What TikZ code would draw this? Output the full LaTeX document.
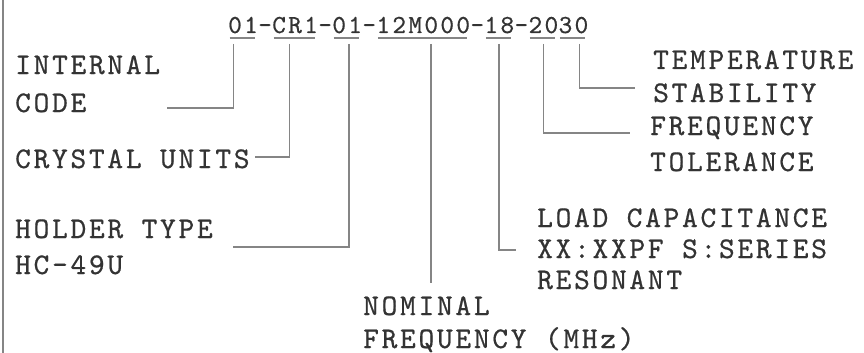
\documentclass[tikz,border=0pt]{standalone}
\usepackage{fontspec}
\usepackage{tikz}
\usepackage{xcolor}
\usetikzlibrary{positioning,calc}

\newfontfamily\diagfont{lmmono10-regular.otf}[LetterSpace=9,FakeBold=0.6]
\definecolor{inkgray}{HTML}{333333}
\definecolor{linegray}{HTML}{858585}

\tikzset{
  seg/.style={font=\diagfont\fontsize{26}{28}\selectfont, text=inkgray, inner sep=0pt, anchor=base west},
  lbl/.style={font=\diagfont\fontsize{30}{35}\selectfont, text=inkgray, align=left, inner sep=0pt, anchor=base west},
  uline/.style={draw=linegray, line width=2.5pt},
  conn/.style={draw=linegray, line width=1.8pt}
}

\begin{document}
\begin{tikzpicture}[x=1pt,y=-1pt]
  \useasboundingbox (0,0) rectangle (864,353);
  \draw[linegray, line width=2.5pt] (3,0) -- (3,353);

  % part number, one node per field
  \node[seg] (s1) at (228,33) {01};
  \node[seg] (h1) at (s1.base east) {-};
  \node[seg] (s2) at (h1.base east) {CR1};
  \node[seg] (h2) at (s2.base east) {-};
  \node[seg] (s3) at (h2.base east) {01};
  \node[seg] (h3) at (s3.base east) {-};
  \node[seg] (s4) at (h3.base east) {12M000};
  \node[seg] (h4) at (s4.base east) {-};
  \node[seg] (s5) at (h4.base east) {18};
  \node[seg] (h5) at (s5.base east) {-};
  \node[seg] (s6) at (h5.base east) {20};
  \node[seg] (s7) at (s6.base east) {30};

  % underlines and connector tops
  \foreach \s/\f in {s1/0.18, s2/0.38, s3/0.55, s4/0.58, s5/0.5, s6/0.5, s7/0.7} {
    \draw[uline] ([xshift=1.5pt,yshift=-5pt]\s.base west) -- ([xshift=-3pt,yshift=-5pt]\s.base east);
    \coordinate (t\s) at ($([yshift=-11pt]\s.base west)!\f!([yshift=-11pt]\s.base east)$);
  }

  % labels (anchored on the last line)
  \node[lbl] (intl) at (15,112) {INTERNAL\\[3pt]CODE};
  \node[lbl] (cryst) at (15,168) {CRYSTAL UNITS};
  \node[lbl] (holder) at (15,274) {HOLDER TYPE\\[1pt]HC-49U};
  \node[lbl] (nomf) at (363,348) {NOMINAL\\[-2pt]FREQUENCY (MHz)};
  \node[lbl] (load) at (537,289) {LOAD CAPACITANCE\\[-4pt]XX:XXPF S:SERIES\\[-4pt]RESONANT};
  \node[lbl] (temp) at (653,102) {TEMPERATURE\\[-2pt]STABILITY};
  \node[lbl] (tol) at (650,171) {FREQUENCY\\[1pt]TOLERANCE};

  % connector ends
  \coordinate (e1) at (167,108);
  \coordinate (e2) at (255,157);
  \coordinate (e3) at (233,247);
  \coordinate (e4) at (426,283);
  \coordinate (e5) at (516,250);
  \coordinate (e6) at (630,133);
  \coordinate (e7) at (635,88);

  \draw[conn] (ts1) |- (e1);
  \draw[conn] (ts2) |- (e2);
  \draw[conn] (ts3) |- (e3);
  \draw[conn] (ts4) -- (ts4 |- e4);
  \draw[conn] (ts5) |- (e5);
  \draw[conn] (ts6) |- (e6);
  \draw[conn] (ts7) |- (e7);
\end{tikzpicture}
\end{document}
